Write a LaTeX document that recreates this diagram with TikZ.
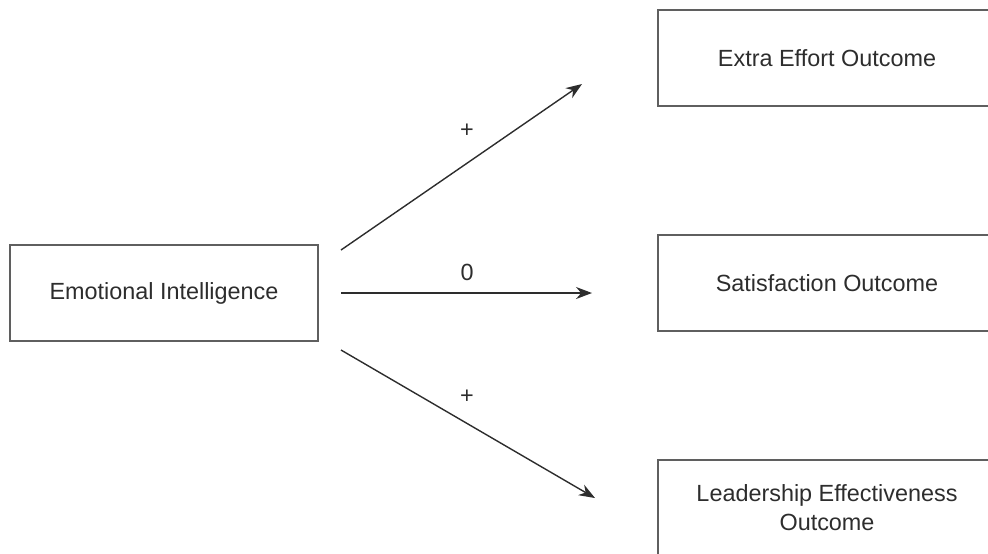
\documentclass[tikz,border=0pt]{standalone}
\usepackage{fontspec}
\setmainfont{Liberation Sans}
\usepackage{xcolor}
\usepackage{tikz}
\usetikzlibrary{arrows.meta,positioning,calc}
\definecolor{boxgray}{RGB}{95,95,95}
\definecolor{inkgray}{RGB}{45,45,45}
\tikzset{
  box/.style={rectangle, draw=boxgray, line width=1pt, minimum height=48pt, align=center, text=inkgray, font=\fontsize{11.7}{14.5}\selectfont},
  srcbox/.style={box, minimum width=154pt},
  outbox/.style={box, minimum width=169pt},
  arrow/.style={-{Stealth[length=8pt,width=6pt]}, draw=inkgray, line width=0.7pt},
  sign/.style={text=inkgray, font=\fontsize{11.7}{14}\selectfont},
}

\begin{document}
\begin{tikzpicture}[x=0.5pt, y=-0.5pt]
  \clip (0,0) rectangle (988,553);

  % Predictor
  \node[srcbox] (ei) at (164,293) {Emotional Intelligence};

  % Outcomes
  \node[outbox] (extra) at (827,58) {Extra Effort Outcome};
  \node[outbox] (satis) at (827,283) {Satisfaction Outcome};
  \node[outbox] (lead) at (827,508) {Leadership Effectiveness\\Outcome};

  % Arrow ends
  \coordinate (s1) at (341,250);
  \coordinate (s2) at (341,293);
  \coordinate (s3) at (341,350);
  \coordinate (e1) at (582,84);
  \coordinate (e2) at (592,293);
  \coordinate (e3) at (595,498);

  \draw[arrow] (s1) -- (e1);
  \draw[arrow] (s2) -- (e2);
  \draw[arrow] (s3) -- (e3);

  % Signs
  \node[sign] (p1) at (467,131) {+};
  \node[sign] (p2) at (467,272) {0};
  \node[sign] (p3) at (467,397) {+};

\end{tikzpicture}
\end{document}
